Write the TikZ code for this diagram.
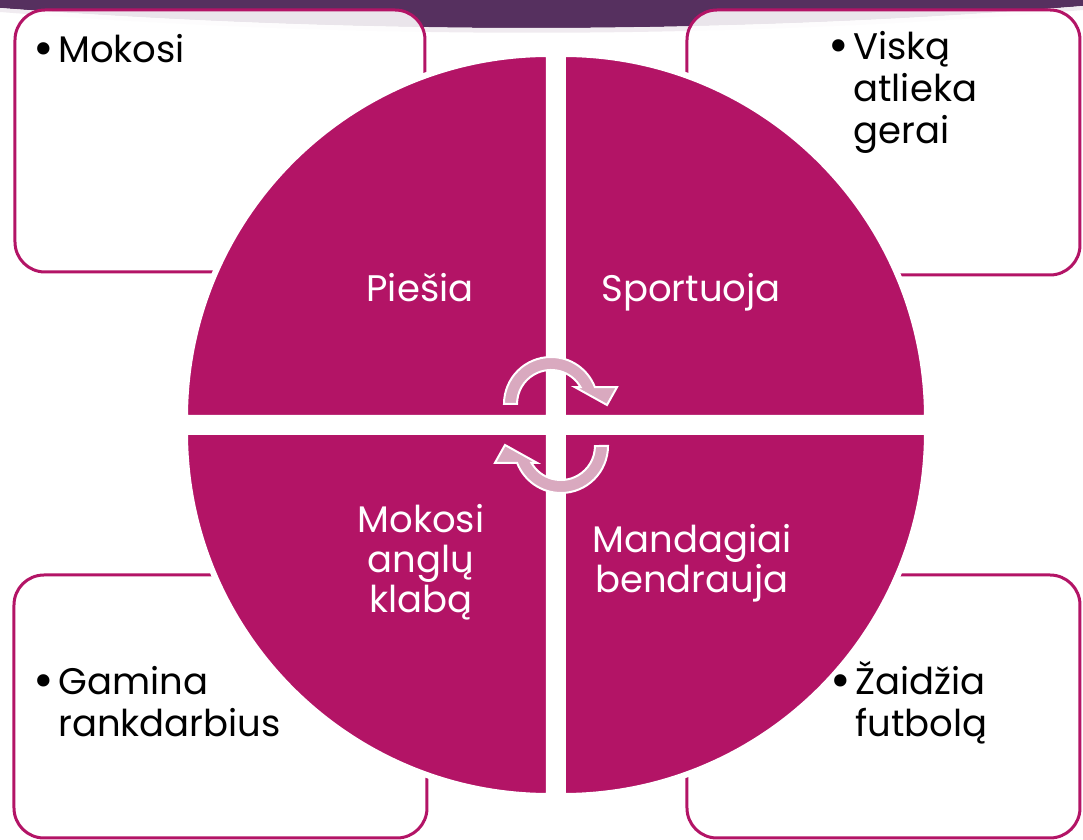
\documentclass[tikz,border=0pt]{standalone}
\usepackage{fontspec}
\setmainfont{Poppins}
\definecolor{berry}{HTML}{B31466}
\definecolor{plum}{HTML}{6B3466}
\definecolor{plumdark}{HTML}{56305F}
\definecolor{arrowpink}{HTML}{D9A9BF}
\newcommand\itembullet{\llap{\raisebox{-1.2pt}{\scalebox{1.35}{\textbullet}}\hspace{2pt}}}
\tikzset{
  itembox/.style={draw=berry, line width=1.5pt, rounded corners=15pt, fill=white, fill opacity=0.88},
  quarter/.style={fill=berry, draw=white, line width=3pt},
  cyclearrow/.style={fill=arrowpink, draw=white, line width=1pt},
  itemtext/.style={font=\fontsize{18.5}{21}\selectfont, align=left, inner sep=0pt, anchor=base west},
  quartertext/.style={text=white, font=\fontsize{18.5}{20}\selectfont, align=center, inner sep=0pt, anchor=base}
}
\begin{document}
\begin{tikzpicture}[x=0.5pt,y=0.5pt]
\useasboundingbox (-556,-415) rectangle (527,425);
\def\arrowpath{(-52,21) arc (180:21:47) -- (61,37.8) -- (51,20) -- (19,37.8) -- (24.6,37.8) arc (29.6:180:34) -- cycle}

% header band
\shade[left color=plumdark, middle color=plum, right color=plumdark]
  (-556,425) -- (527,425) -- (527,419) .. controls (170,390) and (-200,390) .. (-556,417) -- cycle;
\fill[plum!10] (-556,417) .. controls (-200,390) and (170,390) .. (527,419)
  -- (527,415) .. controls (170,385) and (-200,385) .. (-556,413) -- cycle;

% corner boxes
\draw[itembox] (-541,153) rectangle (-131,415);
\draw[itembox] (131,150) rectangle (524,415);
\draw[itembox] (-542,-413) rectangle (-129,-150);
\draw[itembox] (131,-413) rectangle (524,-150);

% circle in four parts
\draw[quarter] (7,7) -- ++(364,0) arc (0:90:364) -- cycle;
\draw[quarter] (-7,7) -- ++(0,364) arc (90:180:364) -- cycle;
\draw[quarter] (-7,-7) -- ++(-364,0) arc (180:270:364) -- cycle;
\draw[quarter] (7,-7) -- ++(0,-364) arc (270:360:364) -- cycle;

% arrows in the middle
\draw[cyclearrow] \arrowpath;
\draw[cyclearrow, rotate=180] \arrowpath;

\node[quartertext] (piesia) at (-136,123) {Piešia};
\node[quartertext] (sportuoja) at (135,123) {Sportuoja};
\node[quartertext] (anglu) at (-135,-188) {Mokosi\\anglų\\klabą};
\node[quartertext] (mandagiai) at (136,-168) {Mandagiai\\bendrauja};

\node[itemtext] (mokosi) at (-498,362) {\itembullet Mokosi};
\node[itemtext] (viska) at (297,281) {\itembullet Viską\\atlieka\\gerai};
\node[itemtext] (gamina) at (-498,-312) {\itembullet Gamina\\rankdarbius};
\node[itemtext] (zaidzia) at (299,-312) {\itembullet Žaidžia\\futbolą};
\end{tikzpicture}
\end{document}
